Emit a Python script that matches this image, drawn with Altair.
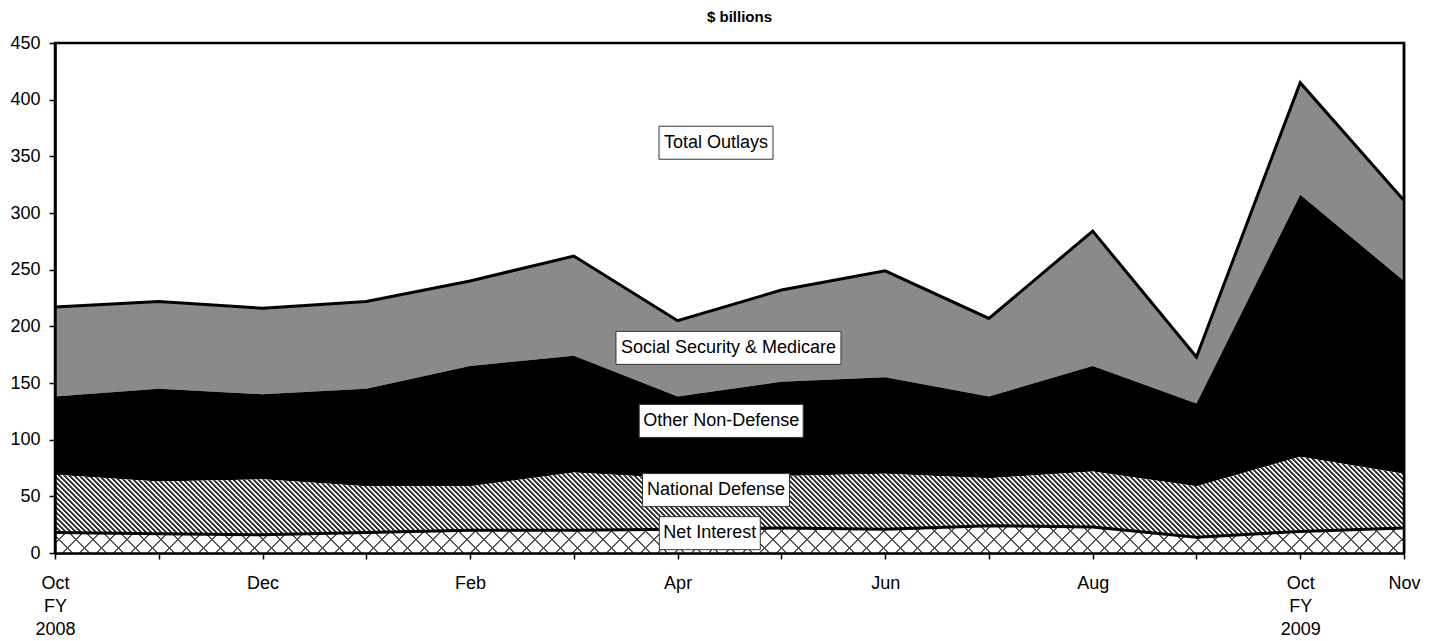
import json
import altair as alt
import pandas as pd

# ---------------- data ----------------
months = list(range(14))
x_labels = ["Oct|FY|2008", "", "Dec", "", "Feb", "", "Apr", "", "Jun", "", "Aug", "",
            "Oct|FY|2009", "Nov"]
net_interest = [18, 17, 16, 18, 20, 20, 21, 22, 21, 24, 23, 14, 19, 22]
national_defense = [51, 46, 49, 41, 39, 51, 45, 46, 49, 42, 49, 45, 66, 48]
other_non_defense = [69, 82, 75, 86, 106, 103, 72, 83, 85, 72, 93, 73, 231, 170]
ss_medicare = [79, 77, 76, 77, 75, 88, 67, 81, 94, 69, 119, 41, 99, 71]
y_ticks = [0, 50, 100, 150, 200, 250, 300, 350, 400, 450]

ann_text = ["Total Outlays", "Social Security & Medicare", "Other Non-Defense",
            "National Defense", "Net Interest"]
ann_x = [6.37, 6.49, 6.42, 6.37, 6.31]
ann_y = [362, 181, 116.5, 55.5, 17.5]

# ---------------- style ----------------
FONT = "Liberation Sans"
W, H = 1349, 510
Y_MAX = 450
box_half_w = [57, 112.5, 82, 73.5, 50.5]
box_half_h = 16.5

# ---------------- table ----------------
c1 = net_interest
c2 = [a + b for a, b in zip(c1, national_defense)]
c3 = [a + b for a, b in zip(c2, other_non_defense)]
c4 = [a + b for a, b in zip(c3, ss_medicare)]
df = pd.DataFrame({"m": months, "c1": c1, "c2": c2, "c3": c3, "c4": c4})

ann = pd.DataFrame({
    "text": ann_text, "x": ann_x, "y": ann_y,
    "box": [f"M{-hw},{-box_half_h}H{hw}V{box_half_h}H{-hw}Z" for hw in box_half_w],
})


def stripes(bw, bh, period, direction, line_col, gap_col, line_frac, soft):
    """Linear gradient that draws 45-degree hatch lines over a bw x bh box."""
    r = bh / bw
    s = (1 + r) / (1 + r * r)
    if direction == "back":      # "\" lines
        x1, y1, x2, y2 = 0, 1, s, 1 - s * r
    else:                        # "/" lines
        x1, y1, x2, y2 = 0, 0, s, s * r
    n = (bw + bh) / period
    step = 1.0 / n
    stops = []
    last = -1.0
    i = 0
    while i * step < 1.0:
        base = i * step
        for frac, col in ((0.0, line_col), (line_frac, line_col),
                          (line_frac + soft, gap_col), (1 - soft, gap_col)):
            off = round(min(1.0, base + frac * step), 6)
            if off < last:
                off = last
            stops.append({"offset": off, "color": col})
            last = off
        i += 1
    return {"gradient": "linear", "x1": x1, "y1": y1, "x2": x2, "y2": y2, "stops": stops}


px = H / Y_MAX
nd_h = (max(c2) - min(c1)) * px
ni_h = max(c1) * px
nd_fill = stripes(W, nd_h, 5.0, "back", "#2e2e2e", "#ffffff", 0.38, 0.12)
ni_fill_a = stripes(W, ni_h, 17.0, "back", "#555555", "#ffffff", 0.07, 0.04)
ni_fill_b = stripes(W, ni_h, 17.0, "fwd", "#555555", "rgba(255,255,255,0)", 0.07, 0.04)

# ---------------- encodings ----------------
x_scale = alt.Scale(domain=[0, 13], nice=False, zero=False)
y_scale = alt.Scale(domain=[0, Y_MAX], nice=False)
label_expr = f"split({json.dumps(x_labels)}[datum.value], '|')"
x_axis = alt.Axis(values=months, labelExpr=label_expr, title=None, grid=False,
                  tickSize=6, tickWidth=1.5, tickColor="black", labelPadding=15,
                  labelFont=FONT, labelFontSize=18, labelColor="black",
                  labelLineHeight=23, labelOverlap=False, labelFlush=False,
                  labelAlign="center", labelBaseline="top",
                  domainColor="black", domainWidth=2.5, zindex=1)
y_axis = alt.Axis(values=y_ticks, title=None, grid=False, tickSize=6, tickWidth=1.5,
                  tickColor="black", labelPadding=9, labelFont=FONT, labelFontSize=18,
                  labelColor="black", domainColor="black", domainWidth=2.5, zindex=1)


def X(field):
    return alt.X(f"{field}:Q", scale=x_scale, axis=x_axis)


def Y(field):
    return alt.Y(f"{field}:Q", scale=y_scale, axis=y_axis)


base = alt.Chart(df)
ssm = base.mark_area(fill="#8a8a8a").encode(x=X("m"), y=Y("c4"), y2="c3")
ond = base.mark_area(fill="#000000").encode(x=X("m"), y=Y("c3"), y2="c2")
nd = base.mark_area(fill=nd_fill).encode(x=X("m"), y=Y("c2"), y2="c1")
ni_a = base.mark_area(fill=ni_fill_a).encode(x=X("m"), y=Y("c1"))
ni_b = base.mark_area(fill=ni_fill_b).encode(x=X("m"), y=Y("c1"))
ni_line = base.mark_line(color="black", strokeWidth=3).encode(x=X("m"), y=Y("c1"))
tot_line = base.mark_line(color="black", strokeWidth=3).encode(x=X("m"), y=Y("c4"))
right_edge = alt.Chart(pd.DataFrame({"m": [13]})).mark_rule(
    color="black", strokeWidth=2.5).encode(x=X("m"), y=alt.datum(0), y2=alt.datum(Y_MAX))

boxes = alt.Chart(ann).mark_point(
    filled=True, fill="white", stroke="#333333", strokeWidth=1, size=4,
    opacity=1, fillOpacity=1, strokeOpacity=1
).encode(x=X("x"), y=Y("y"), shape=alt.Shape("box:N", scale=None))
texts = alt.Chart(ann).mark_text(
    font=FONT, fontSize=18, color="black", align="center", baseline="middle"
).encode(x=X("x"), y=Y("y"), text="text:N")

chart = alt.layer(
    ssm, ond, nd, ni_a, ni_b, ni_line, tot_line, right_edge, boxes, texts
).properties(
    width=W, height=H,
    title=alt.TitleParams("$ billions", font=FONT, fontSize=15, fontWeight="bold",
                          color="black", anchor="middle", dx=10, offset=9),
    autosize=alt.AutoSizeParams(type="none"),
    padding={"left": 47, "top": 35, "right": 25, "bottom": 86},
).configure(
    background="white"
).configure_view(
    stroke="black", strokeWidth=2.5
)

chart.save("out.html", embed_options={"renderer": "svg", "actions": False})
